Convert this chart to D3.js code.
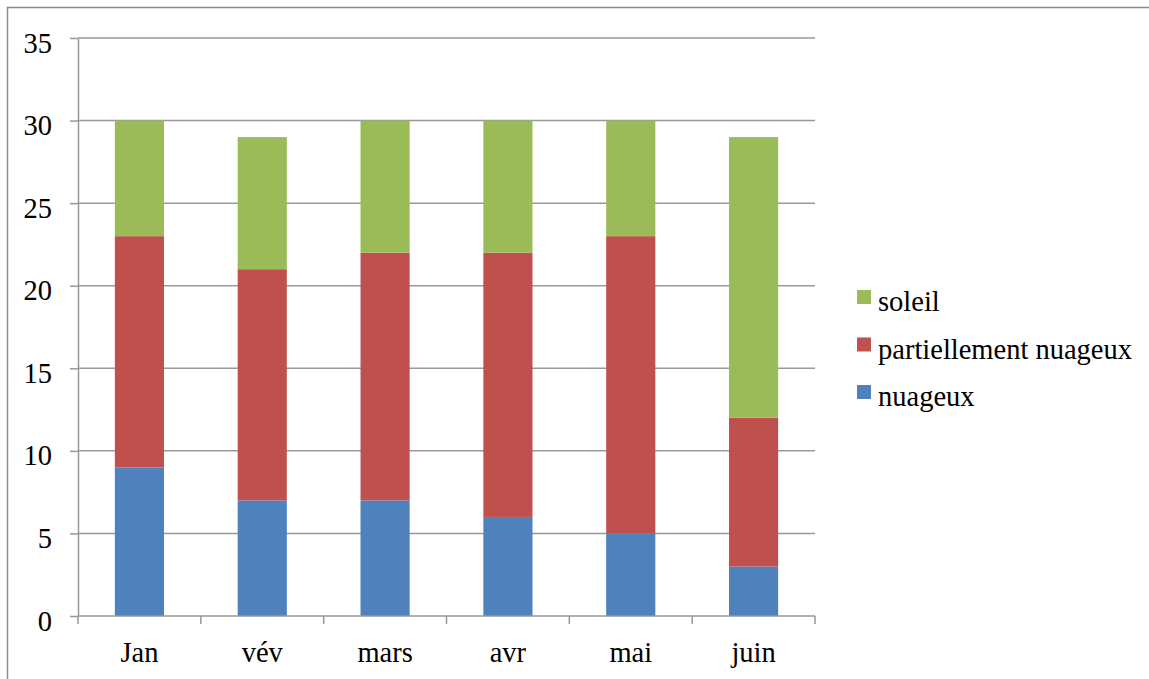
<!DOCTYPE html>
<html>
<head>
<meta charset="utf-8">
<script src="https://cdn.jsdelivr.net/npm/d3@7"></script>
<style>
  html, body { margin: 0; padding: 0; background: #fff; }
  svg text { font-family: "Liberation Serif", "DejaVu Serif", serif; fill: #000; }
</style>
</head>
<body>
<svg id="chart" width="1149" height="679"></svg>
<script>
// Days per month by sky condition
const months = ["Jan", "vév", "mars", "avr", "mai", "juin"];
const nuageux = [9, 7, 7, 6, 5, 3];
const partiellementNuageux = [14, 14, 15, 16, 18, 9];
const soleil = [7, 8, 8, 8, 7, 17];
const seriesNames = ["nuageux", "partiellement nuageux", "soleil"];
const seriesColors = ["#4F81BD", "#C0504D", "#9BBB59"];
const yTicks = [0, 5, 10, 15, 20, 25, 30, 35];

const rows = months.map((m, i) => ({
  month: m,
  "nuageux": nuageux[i],
  "partiellement nuageux": partiellementNuageux[i],
  "soleil": soleil[i]
}));

const svg = d3.select("#chart");
const plot = { left: 78, right: 815, top: 38, bottom: 616 };
const fontSize = 28.5;
const fontFamily = '"Liberation Serif", "DejaVu Serif", serif';

// outer chart frame
svg.append("rect")
  .attr("x", 7.5).attr("y", 7.5)
  .attr("width", 1160).attr("height", 700)
  .attr("fill", "none").attr("stroke", "#8c8c8c").attr("stroke-width", 1.5);

const x = d3.scaleBand()
  .domain(months)
  .range([plot.left, plot.right])
  .paddingInner(0.6)
  .paddingOuter(0.3);

const y = d3.scaleLinear()
  .domain([0, 35])
  .range([plot.bottom, plot.top]);

// value axis with left tick stubs
const yAxis = svg.append("g")
  .attr("transform", `translate(${plot.left},0)`)
  .call(d3.axisLeft(y).tickValues(yTicks).tickSize(8).tickPadding(18).tickSizeOuter(0));
yAxis.select(".domain").attr("stroke", "#999").attr("stroke-width", 1.5);
yAxis.selectAll(".tick line").attr("stroke", "#999").attr("stroke-width", 1.5);
yAxis.selectAll(".tick text")
  .attr("dy", "14px")
  .style("font-size", fontSize + "px")
  .style("font-family", fontFamily);

// horizontal gridlines
svg.append("g").selectAll("line")
  .data(yTicks.filter(d => d > 0))
  .join("line")
  .attr("x1", plot.left).attr("x2", plot.right)
  .attr("y1", d => y(d)).attr("y2", d => y(d))
  .attr("stroke", "#999").attr("stroke-width", 1.5);

// stacked bars
const stack = d3.stack().keys(seriesNames);
const layers = stack(rows);
svg.append("g").selectAll("g")
  .data(layers)
  .join("g")
  .attr("fill", (d, i) => seriesColors[i])
  .selectAll("rect")
  .data(d => d)
  .join("rect")
  .attr("x", d => x(d.data.month))
  .attr("width", x.bandwidth())
  .attr("y", d => y(d[1]))
  .attr("height", d => y(d[0]) - y(d[1]));

// category axis with ticks between categories
const edges = d3.range(months.length + 1).map(i => plot.left + i * x.step());
const xAxis = svg.append("g");
xAxis.append("line")
  .attr("x1", plot.left).attr("x2", plot.right)
  .attr("y1", plot.bottom).attr("y2", plot.bottom)
  .attr("stroke", "#999").attr("stroke-width", 1.5);
xAxis.selectAll("line.tk")
  .data(edges)
  .join("line").attr("class", "tk")
  .attr("x1", d => d).attr("x2", d => d)
  .attr("y1", plot.bottom).attr("y2", plot.bottom + 8)
  .attr("stroke", "#999").attr("stroke-width", 1.5);
xAxis.selectAll("text")
  .data(months)
  .join("text")
  .attr("x", d => x(d) + x.bandwidth() / 2)
  .attr("y", 662)
  .attr("text-anchor", "middle")
  .style("font-size", fontSize + "px")
  .text(d => d);

// legend, top to bottom: soleil, partiellement nuageux, nuageux
const legendOrder = [2, 1, 0];
const legend = svg.append("g").selectAll("g")
  .data(legendOrder)
  .join("g")
  .attr("transform", (d, i) => `translate(857,${290 + i * 47.5})`);
legend.append("rect")
  .attr("width", 14).attr("height", 14)
  .attr("fill", d => seriesColors[d]);
legend.append("text")
  .attr("x", 21).attr("y", 21)
  .style("font-size", fontSize + "px")
  .text(d => seriesNames[d]);
</script>
</body>
</html>
